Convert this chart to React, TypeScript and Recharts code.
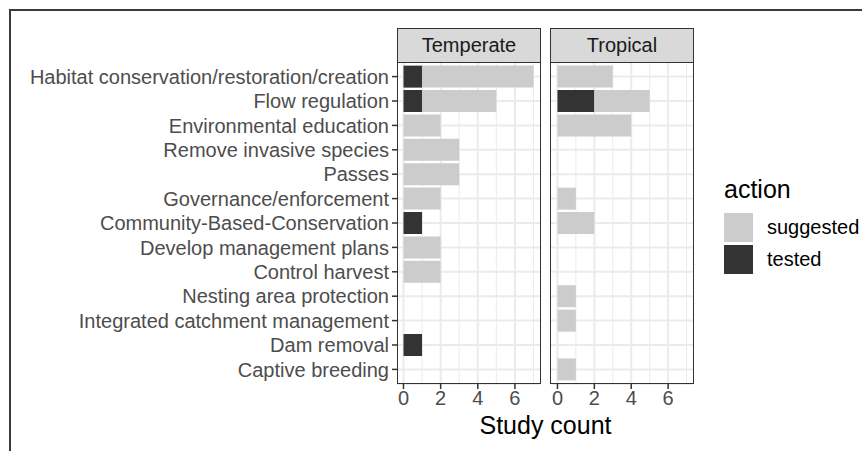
import { BarChart, Bar, XAxis, YAxis, CartesianGrid } from "recharts";

// categories, top to bottom
const actions = [
  "Habitat conservation/restoration/creation",
  "Flow regulation",
  "Environmental education",
  "Remove invasive species",
  "Passes",
  "Governance/enforcement",
  "Community-Based-Conservation",
  "Develop management plans",
  "Control harvest",
  "Nesting area protection",
  "Integrated catchment management",
  "Dam removal",
  "Captive breeding",
];

const temperateTested = [1, 1, 0, 0, 0, 0, 1, 0, 0, 0, 0, 1, 0];
const temperateSuggested = [6, 4, 2, 3, 3, 2, 0, 2, 2, 0, 0, 0, 0];
const tropicalTested = [0, 2, 0, 0, 0, 0, 0, 0, 0, 0, 0, 0, 0];
const tropicalSuggested = [3, 3, 4, 0, 0, 1, 2, 0, 0, 1, 1, 0, 1];

const xTicks = [0, 2, 4, 6];
const xMinor = [1, 3, 5, 7];

const legendItems = [
  { key: "suggested", color: "#cccccc" },
  { key: "tested", color: "#333333" },
];

const FONT = "'Liberation Sans', Arial, Helvetica, sans-serif";
const PANEL_TOP = 62;
const PANEL_BOTTOM = 384;
const H = 451;
const X_AXIS_H = 30;

const makeRows = (tested: number[], suggested: number[]) =>
  actions.map((a, i) => ({ action: a, tested: tested[i], suggested: suggested[i] }));

function Panel({
  rows,
  showLabels,
  width,
  left,
}: {
  rows: { action: string; tested: number; suggested: number }[];
  showLabels: boolean;
  width: number;
  left: number;
}) {
  return (
    <BarChart
      width={width}
      height={H}
      data={rows}
      layout="vertical"
      barCategoryGap="5%"
      margin={{ top: PANEL_TOP, right: 5, left: left, bottom: H - PANEL_BOTTOM - X_AXIS_H }}
    >
      <CartesianGrid
        horizontal={false}
        verticalValues={xMinor}
        stroke="#ebebeb"
        strokeWidth={1}
      />
      <CartesianGrid
        verticalValues={xTicks}
        stroke="#ebebeb"
        strokeWidth={2}
      />
      <XAxis
        type="number"
        domain={[-0.35, 7.35]}
        ticks={xTicks}
        allowDataOverflow
        height={X_AXIS_H}
        axisLine={false}
        tickSize={5}
        tickLine={{ stroke: "#333333", strokeWidth: 1.5 }}
        tick={{ fill: "#4d4d4d", fontSize: 20, fontFamily: FONT }}
      />
      <YAxis
        type="category"
        dataKey="action"
        interval={0}
        hide={!showLabels}
        width={showLabels ? 397 : 0}
        padding={{ top: 2.4, bottom: 2.4 }}
        axisLine={false}
        tickSize={5}
        tickMargin={3}
        tickLine={{ stroke: "#333333", strokeWidth: 1.5 }}
        tick={{ fill: "#4d4d4d", fontSize: 20, fontFamily: FONT }}
      />
      <Bar dataKey="tested" stackId="a" fill="#333333" isAnimationActive={false} />
      <Bar dataKey="suggested" stackId="a" fill="#cccccc" isAnimationActive={false} />
    </BarChart>
  );
}

function Strip({ x, w, label }: { x: number; w: number; label: string }) {
  return (
    <>
      <div
        style={{
          position: "absolute",
          left: x,
          top: 28,
          width: w,
          height: PANEL_TOP - 28 + 1,
          boxSizing: "border-box",
          background: "#d9d9d9",
          border: "1px solid #333333",
          display: "flex",
          alignItems: "center",
          justifyContent: "center",
          fontSize: 20,
          color: "#1a1a1a",
        }}
      >
        {label}
      </div>
      <div
        style={{
          position: "absolute",
          left: x,
          top: PANEL_TOP,
          width: w,
          height: PANEL_BOTTOM - PANEL_TOP,
          boxSizing: "border-box",
          border: "1px solid #333333",
          pointerEvents: "none",
        }}
      />
    </>
  );
}

export default function App() {
  const temperate = makeRows(temperateTested, temperateSuggested);
  const tropical = makeRows(tropicalTested, tropicalSuggested);
  return (
    <div
      style={{
        position: "absolute",
        left: 0,
        top: 0,
        width: 862,
        height: H,
        background: "#fff",
        fontFamily: FONT,
        overflow: "hidden",
      }}
    >
      <div
        style={{
          position: "absolute",
          left: 9,
          top: 9,
          right: 0,
          bottom: 0,
          borderLeft: "2px solid #3a3a3a",
          borderTop: "2px solid #3a3a3a",
        }}
      />
      <div style={{ position: "absolute", left: 0, top: 0 }}>
        <Panel rows={temperate} showLabels width={545} left={0} />
      </div>
      <div style={{ position: "absolute", left: 546, top: 0 }}>
        <Panel rows={tropical} showLabels={false} width={152} left={5} />
      </div>
      <Strip x={397} w={144} label="Temperate" />
      <Strip x={550} w={144} label="Tropical" />
      <div
        style={{
          position: "absolute",
          left: 397,
          width: 297,
          top: 410,
          textAlign: "center",
          fontSize: 25,
          color: "#000",
          lineHeight: "30px",
        }}
      >
        Study count
      </div>
      <div style={{ position: "absolute", left: 724, top: 174 }}>
        <div style={{ fontSize: 25, color: "#000", lineHeight: "30px", height: 37 }}>action</div>
        {legendItems.map((it) => (
          <div key={it.key} style={{ display: "flex", alignItems: "center", height: 32 }}>
            <div style={{ width: 29, height: 29, background: it.color }} />
            <span style={{ marginLeft: 14, fontSize: 20, color: "#000" }}>{it.key}</span>
          </div>
        ))}
      </div>
    </div>
  );
}
